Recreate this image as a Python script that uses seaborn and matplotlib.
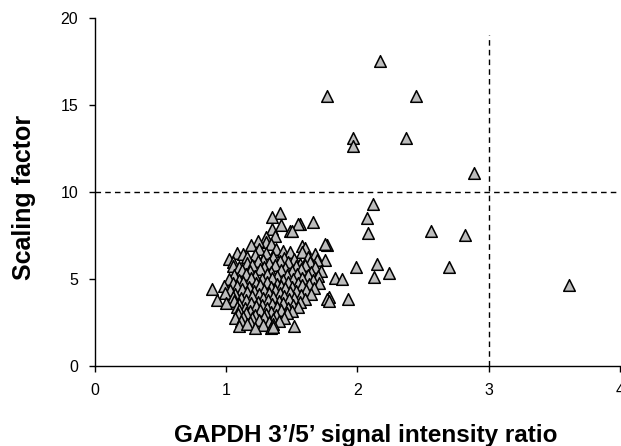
import pandas as pd
import numpy as np
import matplotlib
matplotlib.use("Agg")
import matplotlib.pyplot as plt
import seaborn as sns

# outliers / sparse points
x_sparse = [2.17, 1.77, 2.45, 1.97, 1.97, 2.37, 2.89, 2.12, 2.07, 2.08, 2.56, 2.82,
            1.66, 1.99, 2.15, 2.13, 2.24, 2.70, 3.61, 1.77, 1.75, 1.68, 1.75,
            1.83, 1.88, 1.56, 1.78, 1.93, 1.77, 1.78]
y_sparse = [17.55, 15.5, 15.5, 13.1, 12.65, 13.1, 11.07, 9.29, 8.52, 7.63, 7.78, 7.53,
            8.29, 5.67, 5.86, 5.13, 5.33, 5.67, 4.66, 6.95, 7.0, 6.32, 6.09,
            5.07, 4.98, 8.16, 3.98, 3.83, 3.83, 3.75]

# main cluster
x_cluster = [1.41, 1.35, 1.42, 1.55, 1.35, 1.49, 1.50, 1.30, 1.37, 1.30, 1.24,
             1.19, 1.34, 1.58, 1.38, 1.25, 1.43, 1.60,
             1.08, 1.13, 1.49, 1.58, 1.22, 1.30, 1.68,
             1.02, 1.16, 1.28, 1.36, 1.44, 1.52, 1.62, 1.69,
             1.05, 1.16, 1.24, 1.33, 1.41, 1.47, 1.56, 1.64,
             1.05, 1.10, 1.20, 1.29, 1.37, 1.45, 1.53, 1.60, 1.68,
             1.12, 1.18, 1.26, 1.34, 1.42, 1.50, 1.57, 1.65, 1.72,
             1.06, 1.15, 1.22, 1.31, 1.39, 1.46, 1.54, 1.62, 1.70,
             1.02, 1.10, 1.19, 1.27, 1.35, 1.43, 1.51, 1.58, 1.66,
             1.05, 1.13, 1.23, 1.31, 1.39, 1.47, 1.55, 1.63, 1.71,
             0.98, 1.08, 1.17, 1.26, 1.34, 1.42, 1.50, 1.58, 1.67,
             0.89, 1.03, 1.12, 1.21, 1.29, 1.37, 1.45, 1.53, 1.61,
             0.99, 1.07, 1.16, 1.25, 1.33, 1.41, 1.49, 1.57, 1.65,
             1.05, 1.11, 1.20, 1.28, 1.36, 1.44, 1.52, 1.60,
             0.93, 1.06, 1.15, 1.24, 1.32, 1.40, 1.48, 1.56,
             1.00, 1.10, 1.19, 1.27, 1.35, 1.43, 1.51,
             1.08, 1.14, 1.23, 1.31, 1.39, 1.47, 1.55,
             1.10, 1.18, 1.26, 1.34, 1.42, 1.50,
             1.09, 1.15, 1.22, 1.30, 1.38, 1.46,
             1.07, 1.13, 1.20, 1.29, 1.36, 1.44,
             1.11, 1.18, 1.25, 1.33, 1.40,
             1.10, 1.16, 1.28, 1.36, 1.52,
             1.22, 1.34, 1.36]
y_cluster = [8.81, 8.55, 8.09, 8.16, 7.86, 7.78, 7.74, 7.43, 7.47, 7.14, 7.20,
             6.95, 7.02, 6.90, 6.70, 6.75, 6.62, 6.78,
             6.51, 6.45, 6.57, 6.57, 6.40, 6.48, 6.42,
             6.18, 6.25, 6.12, 6.28, 6.20, 6.15, 6.24, 6.10,
             5.99, 5.93, 6.02, 5.90, 6.05, 5.96, 5.88, 6.00,
             5.75, 5.68, 5.80, 5.72, 5.78, 5.66, 5.74, 5.82, 5.70,
             5.50, 5.45, 5.56, 5.42, 5.52, 5.48, 5.58, 5.40, 5.46,
             5.25, 5.30, 5.20, 5.28, 5.18, 5.26, 5.32, 5.22, 5.15,
             5.00, 4.95, 5.06, 4.98, 5.04, 4.92, 5.02, 5.08, 4.96,
             4.79, 4.84, 4.75, 4.82, 4.72, 4.86, 4.78, 4.70, 4.80,
             4.58, 4.62, 4.55, 4.64, 4.52, 4.60, 4.56, 4.66, 4.50,
             4.41, 4.35, 4.44, 4.32, 4.40, 4.36, 4.46, 4.30, 4.38,
             4.21, 4.15, 4.24, 4.12, 4.20, 4.18, 4.26, 4.10, 4.16,
             3.98, 3.94, 4.02, 3.90, 3.96, 4.04, 3.92, 3.88,
             3.79, 3.74, 3.82, 3.70, 3.78, 3.72, 3.84, 3.68,
             3.60, 3.55, 3.62, 3.52, 3.58, 3.64, 3.50,
             3.40, 3.36, 3.44, 3.32, 3.42, 3.34, 3.38,
             3.20, 3.16, 3.24, 3.12, 3.22, 3.18,
             2.98, 3.04, 2.94, 3.02, 2.96, 3.06,
             2.74, 2.80, 2.76, 2.84, 2.72, 2.78,
             2.60, 2.56, 2.64, 2.52, 2.58,
             2.30, 2.42, 2.36, 2.44, 2.30,
             2.22, 2.17, 2.26]

df = pd.DataFrame({
    "ratio": x_sparse + x_cluster,
    "scaling": y_sparse + y_cluster,
})

sns.set_style("ticks")
plt.rcParams["font.family"] = ["Liberation Sans", "DejaVu Sans"]
plt.rcParams["text.color"] = "black"
plt.rcParams["axes.labelcolor"] = "black"
plt.rcParams["xtick.color"] = "black"
plt.rcParams["ytick.color"] = "black"

fig = plt.figure(figsize=(6.21, 4.46), dpi=100)
ax = fig.add_axes([0.153, 0.179, 0.845, 0.781])

ax.axhline(10, color="black", linestyle=(0, (4, 3)), linewidth=1, zorder=1)
ax.plot([3, 3], [0, 19], color="black", linestyle=(0, (4, 3)), linewidth=1, zorder=1)

sns.scatterplot(data=df, x="ratio", y="scaling", marker="^", s=70,
                color="#bdbdbd", edgecolor="black", linewidth=1.1,
                ax=ax, zorder=3, legend=False)

ax.set_xlim(0, 4)
ax.set_ylim(0, 20)
ax.set_xticks([0, 1, 2, 3, 4])
ax.set_yticks([0, 5, 10, 15, 20])
ax.tick_params(axis="both", labelsize=11.5, length=4, width=1, direction="out", pad=8)
for side in ["top", "right"]:
    ax.spines[side].set_visible(False)
for side in ["left", "bottom"]:
    ax.spines[side].set_linewidth(1)
    ax.spines[side].set_color("black")

ax.set_xlabel("GAPDH 3\u2019/5\u2019 signal intensity ratio", fontsize=17.5,
              fontweight="bold")
ax.set_ylabel("Scaling factor", fontsize=18, fontweight="bold")
ax.xaxis.set_label_coords(0.515, -0.165)
ax.yaxis.set_label_coords(-0.112, 0.483)

fig.savefig("out.png", dpi=100)
